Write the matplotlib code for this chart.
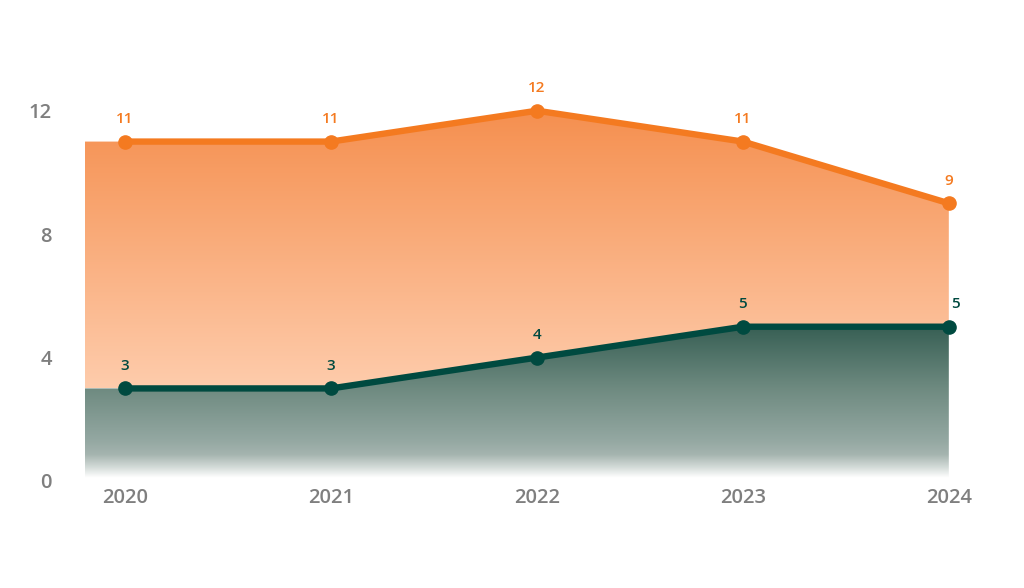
import matplotlib
matplotlib.use("Agg")
import matplotlib.pyplot as plt
import numpy as np
from matplotlib.colors import LinearSegmentedColormap
from matplotlib.patches import Polygon

# data
years = ["2020", "2021", "2022", "2023", "2024"]
orange_vals = [11, 11, 12, 11, 9]
green_vals = [3, 3, 4, 5, 5]
yticks = [0, 4, 8, 12]

ORANGE = "#F47A20"
GREEN = "#004A40"
GRAY = "#7F7F7F"

plt.rcParams['font.family'] = ['Open Sans', 'DejaVu Sans']

fig = plt.figure(figsize=(10.24, 5.88), dpi=100)
ax = fig.add_axes([85 / 1024, 1 - 481 / 588, (990 - 85) / 1024, (481 - 49) / 588])

x = np.arange(len(years))
x0 = -0.195
ax.set_xlim(x0, 4.2)
ax.set_ylim(0, 14)

# fill outlines (fill runs a little left of the first point, flat)
fx = np.concatenate([[x0], x])
fo = np.concatenate([[orange_vals[0]], orange_vals])
fg = np.concatenate([[green_vals[0]], green_vals])

# orange band between the two lines
opoly = Polygon(np.column_stack([np.concatenate([fx, fx[::-1]]),
                                 np.concatenate([fo, fg[::-1]])]),
                closed=True, facecolor="none", edgecolor="none")
ax.add_patch(opoly)
ocmap = LinearSegmentedColormap.from_list(
    "o", [(0.0, (254/255, 204/255, 172/255)), (1.0, (245/255, 142/255, 77/255))])
grad = np.linspace(0, 1, 256).reshape(-1, 1)
im = ax.imshow(grad, cmap=ocmap, origin="lower", aspect="auto",
               extent=(x0, x[-1], 3, 12.2), zorder=1, interpolation="bilinear")
im.set_clip_path(opoly)

# green area down to zero
gpoly = Polygon(np.column_stack([np.concatenate([fx, fx[::-1]]),
                                 np.concatenate([fg, np.zeros(len(fx))])]),
                closed=True, facecolor="none", edgecolor="none")
ax.add_patch(gpoly)
gcmap = LinearSegmentedColormap.from_list(
    "g", [(0.0, (1, 1, 1)), (0.02, (1, 1, 1)), (0.09, (210/255, 218/255, 215/255)),
          (0.17, (165/255, 180/255, 175/255)), (0.26, (148/255, 168/255, 162/255)),
          (0.6, (110/255, 138/255, 128/255)), (1.0, (55/255, 95/255, 84/255))])
im2 = ax.imshow(grad, cmap=gcmap, origin="lower", aspect="auto",
                extent=(x0, x[-1], 0, 5), zorder=1, interpolation="bilinear")
im2.set_clip_path(gpoly)

# lines
ax.plot(x, orange_vals, color=ORANGE, lw=4.6, marker="o", ms=9.5,
        solid_capstyle="round", zorder=3)
ax.plot(x, green_vals, color=GREEN, lw=4.6, marker="o", ms=9.5,
        solid_capstyle="round", zorder=3)

for i, v in enumerate(orange_vals):
    ax.annotate(str(v), (x[i], v), xytext=(0, 11), textcoords="offset points",
                ha="center", va="bottom", color=ORANGE, fontsize=11,
                fontweight="semibold")
for i, v in enumerate(green_vals):
    dx = 5 if i == len(green_vals) - 1 else 0
    ax.annotate(str(v), (x[i], v), xytext=(dx, 11), textcoords="offset points",
                ha="center", va="bottom", color=GREEN, fontsize=11,
                fontweight="semibold")

ax.set_xticks(x)
ax.set_xticklabels(years)
ax.set_yticks(yticks)
ax.tick_params(axis="both", length=0, colors=GRAY, labelsize=14.5)
ax.tick_params(axis="y", pad=24)
ax.tick_params(axis="x", pad=5)
for lbl in ax.get_xticklabels() + ax.get_yticklabels():
    lbl.set_fontweight("semibold")
for s in ax.spines.values():
    s.set_visible(False)

fig.savefig("out.png", dpi=100)
